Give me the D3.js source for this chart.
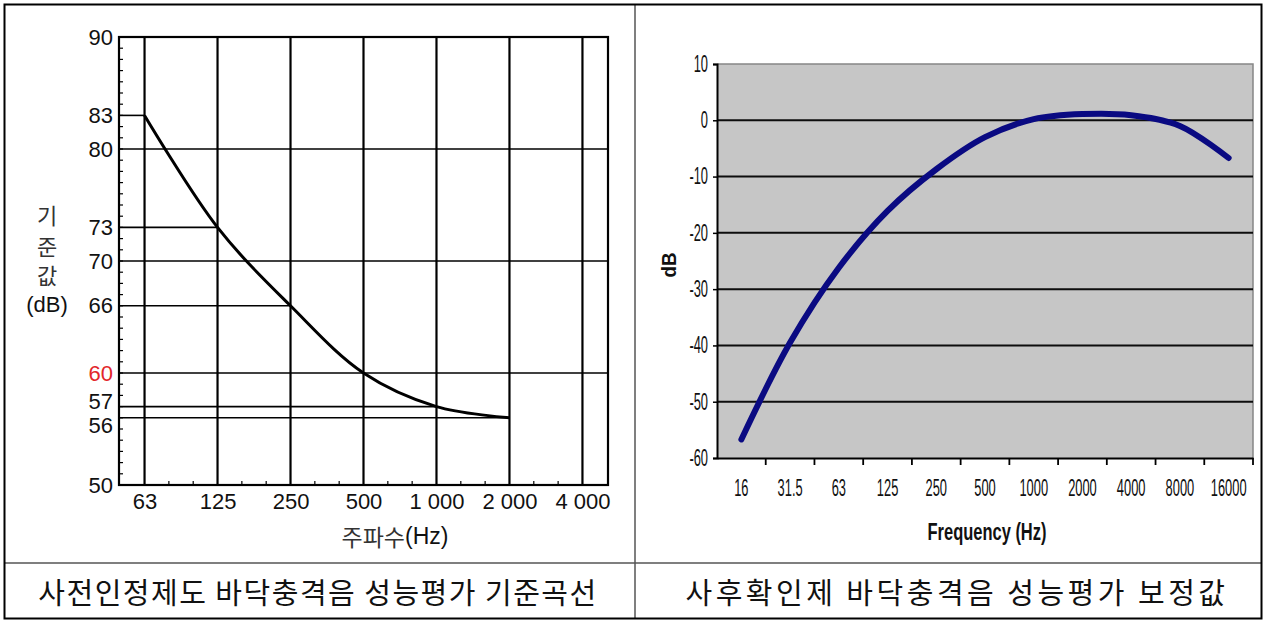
<!DOCTYPE html>
<html><head><meta charset="utf-8">
<script src="https://cdn.jsdelivr.net/npm/d3@7"></script>
<style>
body{margin:0;background:#fff;}
svg{display:block;}
</style>
</head><body>
<svg id="c" width="1265" height="620"></svg>
<script>
// ---------- Left chart data ----------
const leftFreqs = ["63","125","250","500","1 000","2 000","4 000"];
const leftCurveFreqs = ["63","125","250","500","1 000","2 000"];
const leftCurveValues = [83,73,66,60,57,56];
const leftTickValues = [90,83,80,73,70,66,60,57,56,50];
const leftFullGrid = [80,70,60];
const leftPartialGrid = [83,73,66,57,56];
const leftPartialGridEnds = ["63","125","250","1 000","2 000"];
const leftRedTick = 60;
const leftYTitle = ["기","준","값","(dB)"];
const leftXTitleKo = "주파수";
const leftXTitleUnit = "(Hz)";
const leftCaption = "사전인정제도 바닥충격음 성능평가 기준곡선";

// ---------- Right chart data ----------
const rightFreqs = ["16","31.5","63","125","250","500","1000","2000","4000","8000","16000"];
const rightValues = [-56.7,-39.5,-26.2,-16.1,-8.7,-3.0,0.2,1.1,0.9,-1.0,-6.7];
const rightTickValues = [10,0,-10,-20,-30,-40,-50,-60];
const rightGrid = [0,-10,-20,-30,-40,-50];
const rightYTitle = "dB";
const rightXTitle = "Frequency (Hz)";
const rightCaption = "사후확인제 바닥충격음 성능평가 보정값";

const svg = d3.select("#c");
const SANS = "'Liberation Sans', Arial, sans-serif";
const KR = "'Noto Sans CJK KR', 'Noto Sans', sans-serif";

// ---------- table frame ----------
const T = {x0:4.5, y0:4.5, x1:1261.5, y1:618.5, xm:635, ym:563};
const frame = svg.append("g");
frame.append("line").attr("x1",T.xm).attr("x2",T.xm).attr("y1",T.y0).attr("y2",T.y1).attr("stroke","#555").attr("stroke-width",1.5);
frame.append("line").attr("x1",T.x0).attr("x2",T.x1).attr("y1",T.ym).attr("y2",T.ym).attr("stroke","#555").attr("stroke-width",1.5);
frame.append("rect").attr("x",T.x0).attr("y",T.y0).attr("width",T.x1-T.x0).attr("height",T.y1-T.y0)
  .attr("fill","none").attr("stroke","#000").attr("stroke-width",2);

// captions
[[leftCaption,318,1.5],[rightCaption,957,3.5]].forEach(([txt,cx,ls])=>{
  svg.append("text").attr("x",cx).attr("y",591).attr("text-anchor","middle").attr("dominant-baseline","central")
    .attr("font-family",KR).attr("font-size",29).attr("letter-spacing",ls)
    .attr("fill","#111").text(txt);
});

// ---------- Left chart ----------
const L = {left:119, right:608, top:37, bottom:485};
const xL = d3.scalePoint().domain(leftFreqs).range([L.left, L.right]).padding(0.35);
const yL = d3.scaleLinear().domain([50,90]).range([L.bottom, L.top]);
const gL = svg.append("g");

gL.selectAll("line.v").data(leftFreqs).join("line").attr("class","v")
  .attr("x1",d=>xL(d)).attr("x2",d=>xL(d)).attr("y1",L.top).attr("y2",L.bottom)
  .attr("stroke","#000").attr("stroke-width",2.2);
gL.selectAll("line.hf").data(leftFullGrid).join("line").attr("class","hf")
  .attr("x1",L.left).attr("x2",L.right).attr("y1",d=>yL(d)).attr("y2",d=>yL(d))
  .attr("stroke","#000").attr("stroke-width",1.6);
gL.selectAll("line.hp").data(leftPartialGrid).join("line").attr("class","hp")
  .attr("x1",L.left).attr("x2",(d,i)=>xL(leftPartialGridEnds[i])).attr("y1",d=>yL(d)).attr("y2",d=>yL(d))
  .attr("stroke","#000").attr("stroke-width",1.6);
gL.append("rect").attr("x",L.left).attr("y",L.top).attr("width",L.right-L.left).attr("height",L.bottom-L.top)
  .attr("fill","none").attr("stroke","#000").attr("stroke-width",2.2);

// minor ticks
const yMinor = d3.range(51,90);
gL.selectAll("line.ym").data(yMinor).join("line").attr("class","ym")
  .attr("x1",L.left).attr("x2",L.left+4).attr("y1",d=>yL(d)).attr("y2",d=>yL(d))
  .attr("stroke","#000").attr("stroke-width",1.2);
const stepL = xL.step();
const xMinor = [];
leftFreqs.slice(0,-1).forEach(f=>{ xMinor.push(xL(f)+stepL/3, xL(f)+2*stepL/3); });
gL.selectAll("line.xm").data(xMinor).join("line").attr("class","xm")
  .attr("x1",d=>d).attr("x2",d=>d).attr("y1",L.bottom).attr("y2",L.bottom-4)
  .attr("stroke","#000").attr("stroke-width",1.2);

// curve
const lineL = d3.line().x(d=>xL(d[0])).y(d=>yL(d[1])).curve(d3.curveCatmullRom.alpha(0.5));
gL.append("path").datum(leftCurveFreqs.map((f,i)=>[f,leftCurveValues[i]]))
  .attr("d",lineL).attr("fill","none").attr("stroke","#000").attr("stroke-width",3).attr("stroke-linejoin","round");

// axes labels
const yAxL = gL.append("g").attr("transform",`translate(${L.left},0)`)
  .call(d3.axisLeft(yL).tickValues(leftTickValues).tickSize(0).tickPadding(6).tickFormat(d=>String(d)));
yAxL.select(".domain").remove();
const nudge = {57:-5, 56:8};
yAxL.selectAll("text").attr("font-family",SANS).attr("font-size",22)
  .attr("fill",d=>d===leftRedTick?"#e3262b":"#111")
  .attr("transform",d=>`translate(0,${nudge[d]||0})`);
const xAxL = gL.append("g").attr("transform",`translate(0,${L.bottom})`)
  .call(d3.axisBottom(xL).tickSize(0).tickPadding(8));
xAxL.select(".domain").remove();
xAxL.selectAll("text").attr("font-family",SANS).attr("font-size",22).attr("fill","#111");

// titles
const ytY = [214,245,274,304];
gL.selectAll("text.yt").data(leftYTitle).join("text").attr("class","yt")
  .attr("x",47).attr("y",(d,i)=>ytY[i]).attr("text-anchor","middle").attr("dominant-baseline","central")
  .attr("font-family",(d,i)=>i<3?KR:SANS)
  .attr("font-size",22).attr("fill",(d,i)=>i<3?"#333":"#111").text(d=>d);
const xt = gL.append("text").attr("x",395).attr("y",536).attr("text-anchor","middle").attr("dominant-baseline","central")
  .attr("font-size",23);
xt.append("tspan").attr("font-family",KR).attr("fill","#333").text(leftXTitleKo);
xt.append("tspan").attr("font-family",SANS).attr("fill","#111").text(leftXTitleUnit);

// ---------- Right chart ----------
const R = {left:717, right:1253, top:64, bottom:458};
const xR = d3.scaleBand().domain(rightFreqs).range([R.left, R.right]);
const yR = d3.scaleLinear().domain([-60,10]).range([R.bottom, R.top]);
const gR = svg.append("g");

gR.append("rect").attr("x",R.left).attr("y",R.top).attr("width",R.right-R.left).attr("height",R.bottom-R.top)
  .attr("fill","#c6c6c6");
gR.append("path").attr("d",`M${R.left},${R.top}H${R.right}V${R.bottom}`).attr("fill","none")
  .attr("stroke","#878787").attr("stroke-width",1.5);
gR.selectAll("line.g").data(rightGrid).join("line").attr("class","g")
  .attr("x1",R.left).attr("x2",R.right).attr("y1",d=>yR(d)).attr("y2",d=>yR(d))
  .attr("stroke","#0d0d0d").attr("stroke-width",2);

const SX = 0.56; // horizontal condensing of the right chart's lettering
const yAxR = gR.append("g").attr("transform",`translate(${R.left},0)`)
  .call(d3.axisLeft(yR).tickValues(rightTickValues).tickSize(4).tickPadding(5).tickFormat(d=>String(d)));
yAxR.select(".domain").attr("stroke","#000").attr("stroke-width",2);
yAxR.selectAll(".tick line").attr("stroke","#000").attr("stroke-width",1.5);
yAxR.selectAll("text").attr("font-family",SANS).attr("font-size",23).attr("fill","#111")
  .attr("x",-9/SX).attr("transform",`scale(${SX},1)`);

const xAxR = gR.append("g").attr("transform",`translate(0,${R.bottom})`)
  .call(d3.axisBottom(xR).tickSize(0).tickPadding(22));
xAxR.select(".domain").attr("stroke","#000").attr("stroke-width",2);
xAxR.selectAll("text").attr("font-family",SANS).attr("font-size",23).attr("fill","#111")
  .attr("transform",`scale(${SX},1)`);
const bounds = rightFreqs.slice(1).map(f=>xR(f)).concat([R.right]);
gR.selectAll("line.xt").data(bounds).join("line").attr("class","xt")
  .attr("x1",d=>d).attr("x2",d=>d).attr("y1",R.bottom).attr("y2",R.bottom+7)
  .attr("stroke","#000").attr("stroke-width",1.8);

// curve
const lineR = d3.line().x(d=>xR(d[0])+xR.bandwidth()/2).y(d=>yR(d[1])).curve(d3.curveCatmullRom);
gR.append("path").datum(rightFreqs.map((f,i)=>[f,rightValues[i]]))
  .attr("d",lineR).attr("fill","none").attr("stroke","#0a0a82").attr("stroke-width",6)
  .attr("stroke-linecap","round").attr("stroke-linejoin","round");

// titles
const ft = gR.append("text").attr("text-anchor","middle").attr("dominant-baseline","central")
  .attr("font-family",SANS).attr("font-weight","bold").attr("font-size",24).attr("fill","#111").text(rightXTitle);
const ftw = ft.node().getComputedTextLength();
ft.attr("transform",`translate(987,531) scale(${119/ftw},1)`);
const dt = gR.append("text").attr("text-anchor","middle").attr("dominant-baseline","central")
  .attr("font-family",SANS).attr("font-weight","bold").attr("font-size",20).attr("fill","#111").text(rightYTitle);
const dtw = dt.node().getComputedTextLength();
dt.attr("transform",`translate(669,265) rotate(-90) scale(${25/dtw},1)`);
</script>
</body></html>
